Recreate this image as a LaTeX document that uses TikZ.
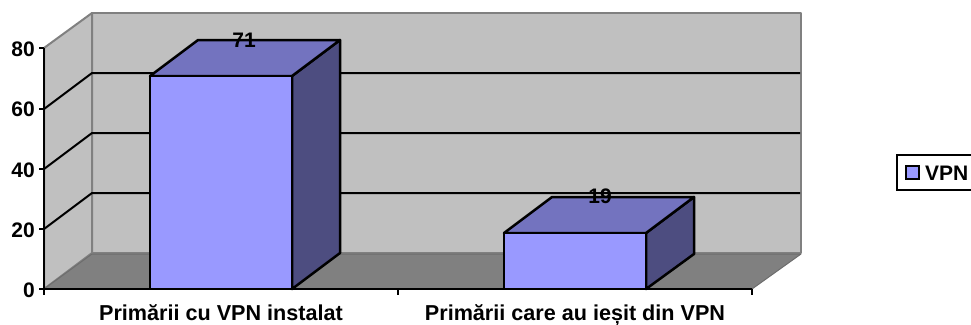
\documentclass[tikz,border=0pt]{standalone}
\usepackage{fontspec}
\setmainfont{Liberation Sans}
\definecolor{wallc}{HTML}{C0C0C0}
\definecolor{floorc}{HTML}{808080}
\definecolor{frontc}{HTML}{9999FF}
\definecolor{topc}{HTML}{7373BF}
\definecolor{sidec}{HTML}{4D4D80}
\tikzset{
  wall/.style={fill=wallc,draw=floorc,line width=2pt,line join=round},
  floorp/.style={fill=floorc,draw=floorc!85!black,line width=1pt,line join=round},
  grid3d/.style={draw=black,line width=2pt},
  barface/.style={draw=black,line width=2.5pt,line join=round},
  axisline/.style={draw=black,line width=2.5pt},
  lab/.style={font=\bfseries\fontsize{21}{24}\selectfont,text=black,inner sep=0pt},
  catlab/.style={lab,font=\bfseries\fontsize{21.6}{24}\selectfont},
}
\begin{document}
\begin{tikzpicture}[x=1pt,y=-1pt]
\useasboundingbox (0,0) rectangle (971,324);
% walls
\draw[wall] (92,13) -- (801,13) -- (801,253) -- (92,253) -- cycle;
\draw[wall] (44,48) -- (92,13) -- (92,253) -- (44,289) -- cycle;
\draw[floorp] (44,289) -- (92,254) -- (801,254) -- (752,289) -- cycle;
% grid
\foreach \a/\b in {109/73,169/133,229/193}{
  \draw[grid3d] (44,\a) -- (92,\b) -- (800,\b);
}
% bar 1
\draw[barface,fill=sidec] (292,76) -- (340,40) -- (340,253) -- (292,289) -- cycle;
\draw[barface,fill=topc] (150,76) -- (198,40) -- (340,40) -- (292,76) -- cycle;
\draw[barface,fill=frontc] (150,76) rectangle (292,289);
% bar 2
\draw[barface,fill=sidec] (646,233) -- (694,197) -- (694,254) -- (646,289) -- cycle;
\draw[barface,fill=topc] (504,233) -- (552,197) -- (694,197) -- (646,233) -- cycle;
\draw[barface,fill=frontc] (504,233) rectangle (646,289);
% axes
\draw[axisline] (44,48) -- (44,289) -- (752,289);
\foreach \t in {48,109,169,229,289}{ \draw[axisline] (39,\t) -- (44,\t); }
\foreach \t in {44,398,752}{ \draw[axisline] (\t,289) -- (\t,295); }
% axis labels
\node[lab,anchor=base east] (y80) at (35,56) {80};
\node[lab,anchor=base east] (y60) at (35,116) {60};
\node[lab,anchor=base east] (y40) at (35,177) {40};
\node[lab,anchor=base east] (y20) at (35,237) {20};
\node[lab,anchor=base east] (y0) at (35,297) {0};
\node[catlab,anchor=base] (c1) at (221,320) {Primării cu VPN instalat};
\node[catlab,anchor=base] (c2) at (575,320) {Primării care au ieșit din VPN};
\node[lab,anchor=base] (v1) at (244,47) {71};
\node[lab,anchor=base] (v2) at (600,203) {19};
% legend
\draw[draw=black,line width=1.8pt,fill=white] (897,155) rectangle (975,190);
\draw[draw=black,line width=2.2pt,fill=frontc] (906,166) rectangle (919,179);
\node[lab,anchor=base west] (leg) at (925,180) {VPN};
\end{tikzpicture}
\end{document}
